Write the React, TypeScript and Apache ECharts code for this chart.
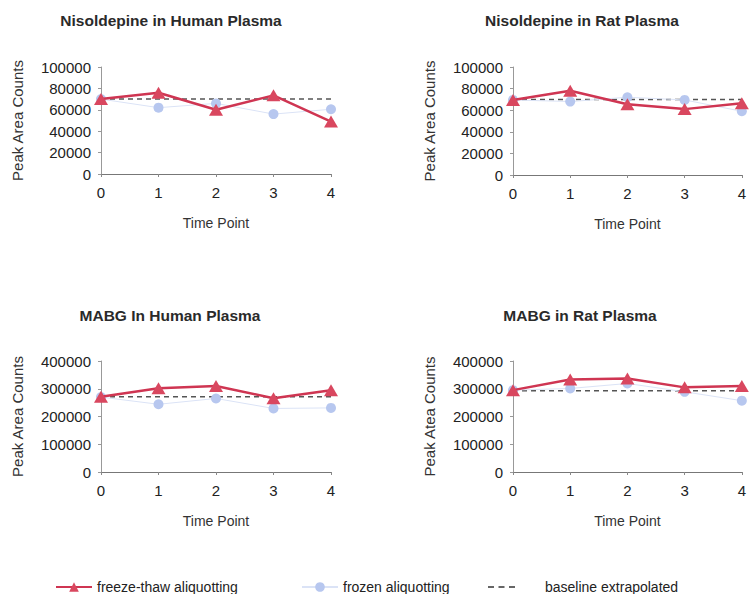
import React, { useEffect, useRef } from "react";
import * as echarts from "echarts";

const timePoints = ["0", "1", "2", "3", "4"];

const nisHumanFreezeThaw = [70000, 76000, 60000, 73500, 49000];
const nisHumanFrozen = [70000, 62000, 66000, 56000, 60500];
const nisHumanBaseline = [70000, 70000, 70000, 70000, 70000];

const nisRatFreezeThaw = [69500, 78000, 65500, 61000, 66500];
const nisRatFrozen = [69500, 68000, 72000, 69500, 59000];
const nisRatBaseline = [70000, 70000, 70000, 70000, 70000];

const mabgHumanFreezeThaw = [271000, 302000, 310000, 266000, 295000];
const mabgHumanFrozen = [270000, 244000, 265000, 229000, 231000];
const mabgHumanBaseline = [271000, 271000, 271000, 271000, 271000];

const mabgRatFreezeThaw = [295000, 333000, 337000, 305000, 310000];
const mabgRatFrozen = [295000, 301000, 319000, 289000, 257000];
const mabgRatBaseline = [293000, 293000, 293000, 293000, 293000];

const panelTitles = [
  "Nisoldepine in Human Plasma",
  "Nisoldepine in Rat Plasma",
  "MABG In Human Plasma",
  "MABG in Rat Plasma",
];
const yAxisNames = ["Peak Area Counts", "Peak Area Counts", "Peak Area Counts", "Peak Atea Counts"];
const xAxisName = "Time Point";
const yMax = [100000, 100000, 400000, 400000];
const yInterval = [20000, 20000, 100000, 100000];

const seriesNames = ["freeze-thaw aliquotting", "frozen aliquotting", "baseline extrapolated"];

const panelData = [
  [nisHumanFreezeThaw, nisHumanFrozen, nisHumanBaseline],
  [nisRatFreezeThaw, nisRatFrozen, nisRatBaseline],
  [mabgHumanFreezeThaw, mabgHumanFrozen, mabgHumanBaseline],
  [mabgRatFreezeThaw, mabgRatFrozen, mabgRatBaseline],
];

const FONT = "'Liberation Sans', Arial, Helvetica, sans-serif";
const RED = "#cf3552";
const RED_FILL = "#d9475f";
const BLUE = "#b7c7ef";
const BLUE_LINE = "#dbe3f6";

const grids = [
  { left: 101, top: 67, width: 230, height: 107 },
  { left: 513, top: 67, width: 232, height: 108 },
  { left: 101, top: 361, width: 230, height: 111 },
  { left: 513, top: 361, width: 232, height: 111 },
];
const titlePos = [
  [171, 20],
  [582, 20],
  [170, 315],
  [580, 315],
];

export default function App() {
  const ref = useRef<HTMLDivElement>(null);
  useEffect(() => {
    document.body.style.margin = "0";
    if (!ref.current) return;
    const chart = echarts.init(ref.current, null, { renderer: "svg" });

    const xAxis = grids.map((_, i) => ({
      type: "category",
      gridIndex: i,
      data: timePoints,
      boundaryGap: false,
      name: xAxisName,
      nameLocation: "middle",
      nameGap: 42,
      nameTextStyle: { fontFamily: FONT, fontSize: 14, color: "#333" },
      axisLine: { show: true, lineStyle: { color: "#777", width: 1 } },
      axisTick: { show: true, length: 3, lineStyle: { color: "#888" } },
      axisLabel: { fontFamily: FONT, fontSize: 15, color: "#222", margin: 11 },
      splitLine: { show: false },
    }));

    const yAxis = grids.map((_, i) => ({
      type: "value",
      gridIndex: i,
      min: 0,
      max: yMax[i],
      interval: yInterval[i],
      name: yAxisNames[i],
      nameLocation: "middle",
      nameGap: 76,
      nameTextStyle: { fontFamily: FONT, fontSize: 15, color: "#333" },
      axisLine: { show: true, lineStyle: { color: "#999", width: 1 } },
      axisTick: { show: true, length: 3, lineStyle: { color: "#999" } },
      axisLabel: {
        fontFamily: FONT,
        fontSize: 15,
        color: "#222",
        margin: 10,
        formatter: (v: number) => String(v),
      },
      splitLine: { show: false },
    }));

    const series: any[] = [];
    panelData.forEach((d, i) => {
      series.push({
        name: seriesNames[2],
        type: "line",
        xAxisIndex: i,
        yAxisIndex: i,
        data: d[2],
        symbol: "none",
        lineStyle: { color: "#555", width: 1.5, type: [5, 4] },
        itemStyle: { color: "#555" },
        z: 2,
      });
      series.push({
        name: seriesNames[1],
        type: "line",
        xAxisIndex: i,
        yAxisIndex: i,
        data: d[1],
        symbol: "circle",
        symbolSize: 10,
        lineStyle: { color: BLUE_LINE, width: 1 },
        itemStyle: { color: BLUE },
        z: 3,
      });
      series.push({
        name: seriesNames[0],
        type: "line",
        xAxisIndex: i,
        yAxisIndex: i,
        data: d[0],
        symbol: "triangle",
        symbolSize: [14, 12],
        lineStyle: { color: RED, width: 2.5 },
        itemStyle: { color: RED_FILL },
        z: 4,
      });
    });

    const legendBase = {
      top: 580,
      padding: 0,
      itemWidth: 36,
      itemHeight: 12,
      itemGap: 0,
      textStyle: { fontFamily: FONT, fontSize: 14, color: "#222" },
      selectedMode: false,
    };

    chart.setOption({
      animation: false,
      backgroundColor: "#ffffff",
      grid: grids.map((g) => ({ ...g, containLabel: false })),
      xAxis,
      yAxis,
      series,
      legend: [
        { ...legendBase, left: 55, data: [seriesNames[0]] },
        { ...legendBase, left: 301, data: [seriesNames[1]] },
        {
          ...legendBase,
          top: 580,
          left: 488,
          itemWidth: 27,
          itemHeight: 2,
          textStyle: { ...legendBase.textStyle, padding: [0, 0, 0, 25] },
          data: [
            {
              name: seriesNames[2],
              icon: "path://M0,0h6v2h-6z M10.5,0h6v2h-6z M21,0h6v2h-6z",
              itemStyle: { color: "#666" },
            },
          ],
        },
      ],
      graphic: panelTitles.map((t, i) => ({
        type: "text",
        x: titlePos[i][0],
        y: titlePos[i][1],
        style: {
          text: t,
          fontFamily: FONT,
          fontSize: 15.5,
          fontWeight: "bold",
          fill: "#2a2a2a",
          textAlign: "center",
          textVerticalAlign: "middle",
        },
      })),
    });
    return () => chart.dispose();
  }, []);
  return <div ref={ref} style={{ position: "absolute", left: 0, top: 0, width: 749, height: 594 }} />;
}
